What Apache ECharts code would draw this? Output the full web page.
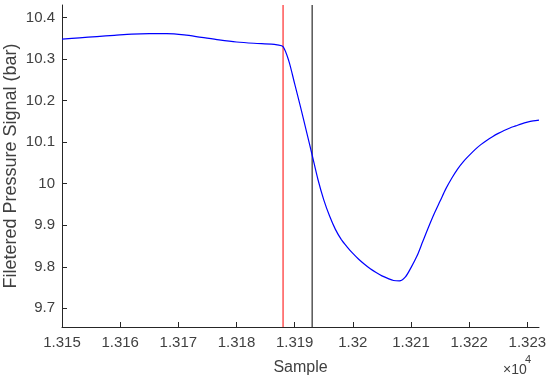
<!DOCTYPE html>
<html>
<head>
<meta charset="utf-8">
<script src="https://cdn.jsdelivr.net/npm/echarts@6/dist/echarts.min.js"></script>
<style>
  html, body { margin: 0; padding: 0; background: #fff; }
  #chart { width: 550px; height: 380px; }
</style>
</head>
<body>
<div id="chart"></div>
<script>
// samples
var samples = [13150, 13153, 13156, 13159, 13162, 13165, 13168, 13171, 13174, 13177,
  13180, 13183, 13186, 13187, 13188, 13189, 13190, 13191, 13192, 13193,
  13194, 13195, 13196, 13197, 13198, 13199, 13200, 13201, 13202, 13203,
  13204, 13205, 13206, 13207, 13208, 13209, 13210, 13211, 13212, 13213,
  13214, 13215, 13216, 13217, 13218, 13219, 13220, 13221, 13222, 13223,
  13224, 13225, 13226, 13227, 13228, 13229, 13230, 13231, 13232];
var pressure = [10.348, 10.351, 10.354, 10.357, 10.360, 10.361, 10.361, 10.358, 10.352, 10.346,
  10.341, 10.338, 10.336, 10.334, 10.330, 10.295, 10.240, 10.185, 10.127, 10.069,
  10.010, 9.961, 9.922, 9.890, 9.866, 9.848, 9.832, 9.818, 9.806, 9.795,
  9.786, 9.778, 9.772, 9.767, 9.766, 9.775, 9.798, 9.825, 9.860, 9.895,
  9.928, 9.958, 9.988, 10.013, 10.035, 10.053, 10.068, 10.082, 10.094, 10.104,
  10.113, 10.121, 10.128, 10.134, 10.139, 10.144, 10.148, 10.151, 10.153];

var xTicks = [13150, 13160, 13170, 13180, 13190, 13200, 13210, 13220, 13230];
var yTicks = [9.7, 9.8, 9.9, 10, 10.1, 10.2, 10.3, 10.4];
var yRange = [9.655, 10.43];
var redLineAt = 13188;
var blackLineAt = 13193;

var chart = echarts.init(document.getElementById('chart'));

var axisColor = '#262626';
var labelColor = '#404040';
var font = 'Liberation Sans, Arial, Helvetica, sans-serif';

function vline(x, color) {
  return {
    type: 'line',
    data: [[x, yRange[0]], [x, yRange[1]]],
    showSymbol: false,
    silent: true,
    lineStyle: { color: color, width: 1 },
    itemStyle: { color: color }
  };
}

var option = {
  backgroundColor: '#ffffff',
  animation: false,
  grid: { left: 62, right: 11, top: 5, bottom: 53, outerBoundsMode: 'none', containLabel: false },
  xAxis: {
    type: 'value',
    min: 13150,
    max: 13232,
    name: 'Sample',
    nameLocation: 'middle',
    nameGap: 33,
    nameMoveOverlap: false,
    nameTextStyle: { fontFamily: font, fontSize: 16, color: labelColor },
    axisLine: { lineStyle: { color: axisColor, width: 1 } },
    axisTick: { inside: true, length: 5, customValues: xTicks, lineStyle: { color: axisColor } },
    axisLabel: {
      customValues: xTicks,
      margin: 8,
      fontFamily: font,
      fontSize: 15,
      color: labelColor,
      formatter: function (v) { return String(Number((v / 10000).toFixed(4))); }
    },
    splitLine: { show: false }
  },
  yAxis: {
    type: 'value',
    min: yRange[0],
    max: yRange[1],
    name: 'Filetered Pressure Signal (bar)',
    nameLocation: 'middle',
    nameGap: 42,
    nameMoveOverlap: false,
    nameTextStyle: { fontFamily: font, fontSize: 18, color: labelColor },
    axisLine: { show: true, lineStyle: { color: axisColor, width: 1 } },
    axisTick: { show: true, inside: true, length: 5, customValues: yTicks, lineStyle: { color: axisColor } },
    axisLabel: {
      customValues: yTicks,
      margin: 7,
      fontFamily: font,
      fontSize: 15,
      color: labelColor,
      formatter: function (v) { return String(Number(v.toFixed(2))); }
    },
    splitLine: { show: false }
  },
  graphic: [
    { type: 'text', left: 503, top: 363, style: { text: '×10', fontFamily: font, fontSize: 14, fill: labelColor } },
    { type: 'text', left: 525, top: 354, style: { text: '4', fontFamily: font, fontSize: 11, fill: labelColor } }
  ],
  series: [
    vline(redLineAt, '#ff0000'),
    vline(blackLineAt, '#000000'),
    {
      type: 'line',
      data: samples.map(function (s, i) { return [s, pressure[i]]; }),
      showSymbol: false,
      smooth: 0.3,
      lineStyle: { color: '#0000ff', width: 1.2 }
    }
  ]
};

chart.setOption(option);
</script>
</body>
</html>
